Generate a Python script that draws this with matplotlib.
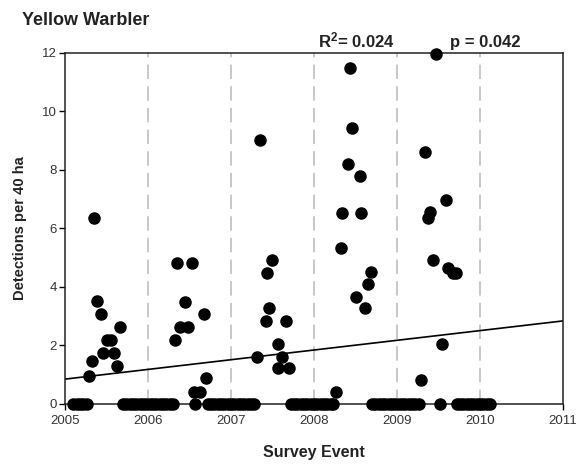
import matplotlib
matplotlib.use("Agg")
import matplotlib.pyplot as plt

plt.rcParams['font.family'] = ['Liberation Sans', 'DejaVu Sans']
plt.rcParams['mathtext.fontset'] = 'custom'
plt.rcParams['mathtext.rm'] = 'Liberation Sans'
plt.rcParams['mathtext.bf'] = 'Liberation Sans:bold'

# survey events with detections
det_x = [2005.29, 2005.33, 2005.35, 2005.39, 2005.43, 2005.46, 2005.51, 2005.55, 2005.59, 2005.63, 2005.66,
         2006.32, 2006.35, 2006.39, 2006.44, 2006.48, 2006.53, 2006.55, 2006.63, 2006.67, 2006.70,
         2007.31, 2007.35, 2007.42, 2007.43, 2007.46, 2007.49, 2007.56, 2007.57, 2007.62, 2007.66, 2007.70,
         2008.27, 2008.32, 2008.34, 2008.41, 2008.43, 2008.46, 2008.51, 2008.55, 2008.57, 2008.62, 2008.65, 2008.69,
         2009.29, 2009.34, 2009.37, 2009.40, 2009.43, 2009.47, 2009.54, 2009.59, 2009.61, 2009.68, 2009.71]
det_y = [0.97, 1.47, 6.35, 3.52, 3.07, 1.75, 2.19, 2.19, 1.75, 1.31, 2.62,
         2.19, 4.81, 2.62, 3.50, 2.62, 4.81, 0.42, 0.42, 3.07, 0.88,
         1.62, 9.03, 2.85, 4.49, 3.27, 4.92, 2.04, 1.22, 1.62, 2.85, 1.22,
         0.40, 5.32, 6.54, 8.19, 11.50, 9.45, 3.67, 7.79, 6.54, 3.27, 4.09, 4.50,
         0.81, 8.62, 6.35, 6.55, 4.92, 11.95, 2.04, 6.97, 4.64, 4.49, 4.49]

# survey events with no detections
zero_x = [2005.10, 2005.14, 2005.18, 2005.22, 2005.26,
          2005.70, 2005.74, 2005.78, 2005.82, 2005.86, 2005.90, 2005.94, 2005.98,
          2006.02, 2006.06, 2006.10, 2006.14, 2006.18, 2006.22, 2006.26, 2006.30,
          2006.57,
          2006.72, 2006.76, 2006.80, 2006.84, 2006.88, 2006.92, 2006.96, 2007.00,
          2007.04, 2007.08, 2007.12, 2007.16, 2007.20, 2007.24, 2007.28,
          2007.72, 2007.76, 2007.80, 2007.84, 2007.88, 2007.92, 2007.96, 2008.00,
          2008.04, 2008.08, 2008.12, 2008.16, 2008.20, 2008.23,
          2008.70, 2008.74, 2008.78, 2008.82, 2008.86, 2008.90, 2008.94, 2008.98,
          2009.02, 2009.06, 2009.10, 2009.14, 2009.18, 2009.22, 2009.26,
          2009.52,
          2009.72, 2009.76, 2009.80, 2009.84, 2009.88, 2009.92, 2009.96, 2010.00,
          2010.04, 2010.08, 2010.12]
zero_y = [0] * len(zero_x)

# fitted trend
trend_x = [2005, 2011]
trend_y = [0.85, 2.84]

years = [2005, 2006, 2007, 2008, 2009, 2010, 2011]
yticks = [0, 2, 4, 6, 8, 10, 12]

fig = plt.figure(figsize=(5.79, 4.68), dpi=100)
ax = fig.add_axes([0.1123, 0.1368, 0.8601, 0.75])

for yr in years[1:-1]:
    ax.axvline(yr, color='#c4c4c4', lw=1.3, ls=(0, (8, 4)), zorder=1)

ax.plot(trend_x, trend_y, color='black', lw=1.2, zorder=2)
ax.plot(zero_x, zero_y, 'o', color='black', ms=8, clip_on=False, zorder=3)
ax.plot(det_x, det_y, 'o', color='black', ms=8, clip_on=False, zorder=3)

ax.set_xlim(2005, 2011)
ax.set_ylim(0, 12)
ax.set_xticks(years)
ax.set_yticks(yticks)
ax.tick_params(direction='out', length=4, width=1, labelsize=9.5, labelcolor='#333333')
ax.tick_params(axis='x', pad=4)
ax.tick_params(axis='y', pad=2)
for s in ax.spines.values():
    s.set_linewidth(1.1)
    s.set_color('#222222')

ax.set_xlabel('Survey Event', fontsize=11.5, fontweight='bold', color='#222222', labelpad=13)
ax.set_ylabel('Detections per 40 ha', fontsize=10.5, fontweight='bold', color='#222222', labelpad=11)

fig.text(22 / 579, 1 - 25 / 468, 'Yellow Warbler', fontsize=13, fontweight='bold', color='#222222')
fig.text(318 / 579, 1 - 47 / 468, r'$\mathbf{R^{2}}$= 0.024', fontsize=12, fontweight='bold', color='#222222')
fig.text(450 / 579, 1 - 47 / 468, 'p = 0.042', fontsize=12, fontweight='bold', color='#222222')

fig.savefig('out.png', dpi=100)
